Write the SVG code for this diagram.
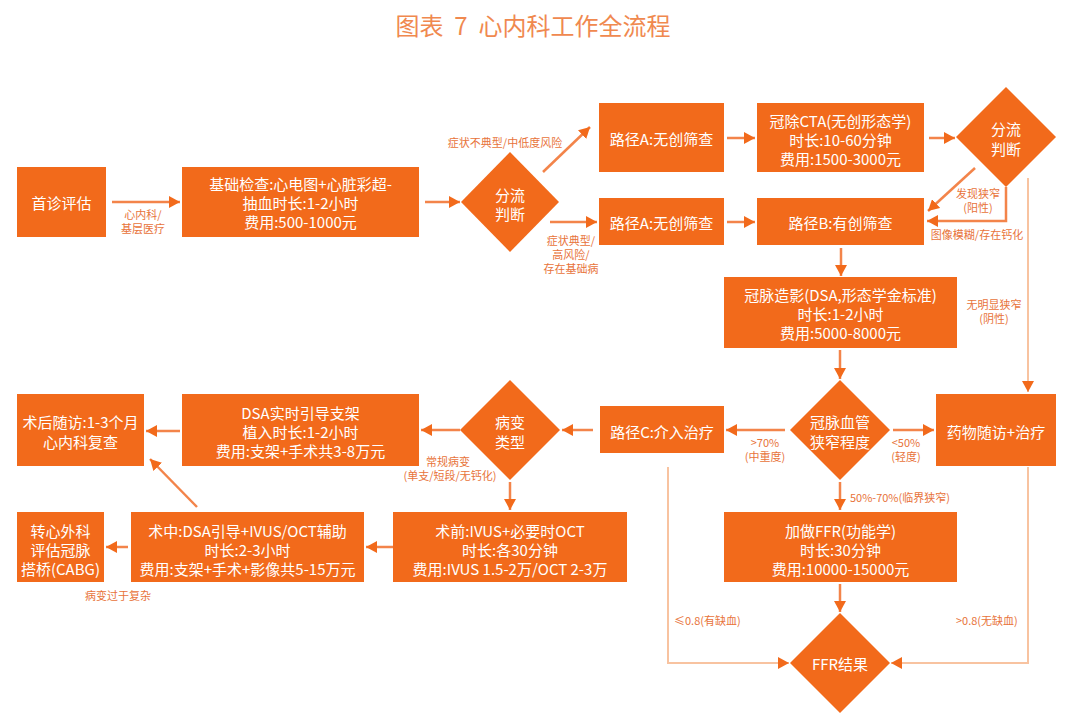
<svg xmlns="http://www.w3.org/2000/svg" width="1080" height="725" viewBox="0 0 1080 725">
<defs>
<style>
.box{fill:#F26A1B;}
.t{font-family:"Noto Sans CJK SC","Liberation Sans",sans-serif;font-size:15px;fill:#FFFFFF;text-anchor:middle;dominant-baseline:central;}
.lb{font-family:"Noto Sans CJK SC","Liberation Sans",sans-serif;font-size:11px;fill:#E8733A;text-anchor:middle;dominant-baseline:central;}
.ln{fill:none;stroke:#F3844A;stroke-width:2.5;marker-end:url(#ah);}
.fd{fill:none;stroke:#F8C3A0;stroke-width:2;marker-end:url(#ah);}
.title{font-family:"Noto Sans CJK SC","Liberation Sans",sans-serif;font-size:24px;fill:#F0894F;text-anchor:middle;}
</style>
<marker id="ah" viewBox="0 0 11 12" refX="11" refY="6" markerWidth="11" markerHeight="12" markerUnits="userSpaceOnUse" orient="auto">
<path d="M0,0 L11,6 L0,12 z" fill="#F26A1B"/>
</marker>
</defs>
<rect x="0" y="0" width="1080" height="725" fill="#FFFFFF"/>
<text class="title" x="533" y="35" xml:space="preserve">图表  7  心内科工作全流程</text>

<g id="connectors">
<line class="ln" x1="112" y1="202" x2="180" y2="202"/>
<line class="ln" x1="425" y1="202" x2="460" y2="202"/>
<line class="ln" x1="543" y1="172" x2="590" y2="127"/>
<line class="ln" x1="550" y1="222" x2="597" y2="222"/>
<line class="ln" x1="727" y1="138" x2="755" y2="138"/>
<line class="ln" x1="929" y1="138" x2="955" y2="138"/>
<line class="ln" x1="727" y1="222" x2="755" y2="222"/>
<line class="ln" x1="975" y1="168" x2="928" y2="211"/>
<polyline class="ln" points="1006,187 1006,221 927,221"/>
<line class="fd" x1="1028" y1="178" x2="1028" y2="392"/>
<line class="ln" x1="841" y1="248" x2="841" y2="276"/>
<line class="ln" x1="840" y1="350" x2="840" y2="379"/>
<line class="ln" x1="785" y1="430" x2="726" y2="430"/>
<line class="ln" x1="893" y1="430" x2="934" y2="430"/>
<line class="ln" x1="840" y1="482" x2="840" y2="510"/>
<line class="ln" x1="840" y1="584" x2="840" y2="612"/>
<polyline class="fd" points="668,467 668,663 789,663"/>
<polyline class="fd" points="1028,467 1028,663 891,663"/>
<line class="ln" x1="593" y1="430" x2="562" y2="430"/>
<line class="ln" x1="460" y1="430" x2="421" y2="430"/>
<line class="ln" x1="510" y1="482" x2="510" y2="510"/>
<line class="ln" x1="180" y1="431" x2="146" y2="431"/>
<line class="ln" x1="393" y1="547" x2="366" y2="547"/>
<line class="ln" x1="128" y1="547" x2="106" y2="547"/>
<line class="ln" x1="197" y1="507" x2="150" y2="459"/>

<text class="lb" x="143" y="214">心内科/</text>
<text class="lb" x="143" y="228">基层医疗</text>
<text class="lb" x="505" y="142">症状不典型/中低度风险</text>
<text class="lb" x="571" y="240">症状典型/</text>
<text class="lb" x="571" y="254">高风险/</text>
<text class="lb" x="571" y="268">存在基础病</text>
<text class="lb" x="978" y="193">发现狭窄</text>
<text class="lb" x="978" y="207">(阳性)</text>
<text class="lb" x="977" y="234">图像模糊/存在钙化</text>
<text class="lb" x="994" y="304">无明显狭窄</text>
<text class="lb" x="994" y="318">(阴性)</text>
<text class="lb" x="765" y="442">&gt;70%</text>
<text class="lb" x="765" y="456">(中重度)</text>
<text class="lb" x="906" y="442">&lt;50%</text>
<text class="lb" x="906" y="456">(轻度)</text>
<text class="lb" x="850" y="497" style="text-anchor:start">50%-70%(临界狭窄)</text>
<text class="lb" x="674" y="620" style="text-anchor:start">≤0.8(有缺血)</text>
<text class="lb" x="956" y="620" style="text-anchor:start">&gt;0.8(无缺血)</text>
<text class="lb" x="448" y="461">常规病变</text>
<text class="lb" x="450" y="475">(单支/短段/无钙化)</text>
<text class="lb" x="118" y="595">病变过于复杂</text>
</g>

<g id="n-shouzhen">
<rect class="box" x="17" y="167" width="89" height="70"/>
<text class="t" x="61.5" y="202">首诊评估</text>
</g>
<g id="n-jichu">
<rect class="box" x="182" y="167" width="237" height="70"/>
<text class="t" x="300.5" y="183">基础检查:心电图+心脏彩超-</text>
<text class="t" x="300.5" y="202">抽血时长:1-2小时</text>
<text class="t" x="300.5" y="221">费用:500-1000元</text>
</g>
<g id="n-fenliu1">
<polygon class="box" points="510,152 559,202 510,252 461,202"/>
<text class="t" x="510" y="194">分流</text>
<text class="t" x="510" y="213">判断</text>
</g>
<g id="n-pathA1">
<rect class="box" x="599" y="103" width="125" height="69"/>
<text class="t" x="661.5" y="138">路径A:无创筛查</text>
</g>
<g id="n-cta">
<rect class="box" x="757" y="103" width="167" height="69"/>
<text class="t" x="840.5" y="120">冠除CTA(无创形态学)</text>
<text class="t" x="840.5" y="139">时长:10-60分钟</text>
<text class="t" x="840.5" y="158">费用:1500-3000元</text>
</g>
<g id="n-fenliu2">
<polygon class="box" points="1006,87 1056,137 1006,187 956,137"/>
<text class="t" x="1006" y="128">分流</text>
<text class="t" x="1006" y="148">判断</text>
</g>
<g id="n-pathA2">
<rect class="box" x="599" y="198" width="125" height="47"/>
<text class="t" x="661.5" y="222">路径A:无创筛查</text>
</g>
<g id="n-pathB">
<rect class="box" x="757" y="198" width="167" height="47"/>
<text class="t" x="840.5" y="222">路径B:有创筛查</text>
</g>
<g id="n-dsa">
<rect class="box" x="724" y="277" width="233" height="71"/>
<text class="t" x="840.5" y="294">冠脉造影(DSA,形态学金标准)</text>
<text class="t" x="840.5" y="313">时长:1-2小时</text>
<text class="t" x="840.5" y="332">费用:5000-8000元</text>
</g>
<g id="n-stenosis">
<polygon class="box" points="840,380 890,430 840,480 790,430"/>
<text class="t" x="840" y="421">冠脉血管</text>
<text class="t" x="840" y="441">狭窄程度</text>
</g>
<g id="n-drug">
<rect class="box" x="936" y="394" width="120" height="72"/>
<text class="t" x="996" y="431">药物随访+治疗</text>
</g>
<g id="n-pathC">
<rect class="box" x="600" y="406" width="124" height="47"/>
<text class="t" x="662" y="431">路径C:介入治疗</text>
</g>
<g id="n-lesion">
<polygon class="box" points="510,380 560,430 510,480 460,430"/>
<text class="t" x="510" y="421">病变</text>
<text class="t" x="510" y="441">类型</text>
</g>
<g id="n-stent">
<rect class="box" x="182" y="394" width="237" height="72"/>
<text class="t" x="300.5" y="412">DSA实时引导支架</text>
<text class="t" x="300.5" y="431">植入时长:1-2小时</text>
<text class="t" x="300.5" y="450">费用:支架+手术共3-8万元</text>
</g>
<g id="n-followup">
<rect class="box" x="17" y="394" width="127" height="72"/>
<text class="t" x="80.5" y="421">术后随访:1-3个月</text>
<text class="t" x="80.5" y="441">心内科复查</text>
</g>
<g id="n-pre">
<rect class="box" x="393" y="512" width="234" height="70"/>
<text class="t" x="510" y="530">术前:IVUS+必要时OCT</text>
<text class="t" x="510" y="549">时长:各30分钟</text>
<text class="t" x="510" y="568">费用:IVUS 1.5-2万/OCT 2-3万</text>
</g>
<g id="n-intra">
<rect class="box" x="131" y="512" width="233" height="70"/>
<text class="t" x="247.5" y="530">术中:DSA引导+IVUS/OCT辅助</text>
<text class="t" x="247.5" y="549">时长:2-3小时</text>
<text class="t" x="247.5" y="568">费用:支架+手术+影像共5-15万元</text>
</g>
<g id="n-cabg">
<rect class="box" x="17" y="512" width="87" height="70"/>
<text class="t" x="60.5" y="530">转心外科</text>
<text class="t" x="60.5" y="549">评估冠脉</text>
<text class="t" x="60.5" y="568">搭桥(CABG)</text>
</g>
<g id="n-ffr">
<rect class="box" x="724" y="512" width="233" height="70"/>
<text class="t" x="840.5" y="530">加做FFR(功能学)</text>
<text class="t" x="840.5" y="549">时长:30分钟</text>
<text class="t" x="840.5" y="568">费用:10000-15000元</text>
</g>
<g id="n-ffrresult">
<polygon class="box" points="840,613 890,663 840,713 790,663"/>
<text class="t" x="840" y="663">FFR结果</text>
</g>
</svg>
